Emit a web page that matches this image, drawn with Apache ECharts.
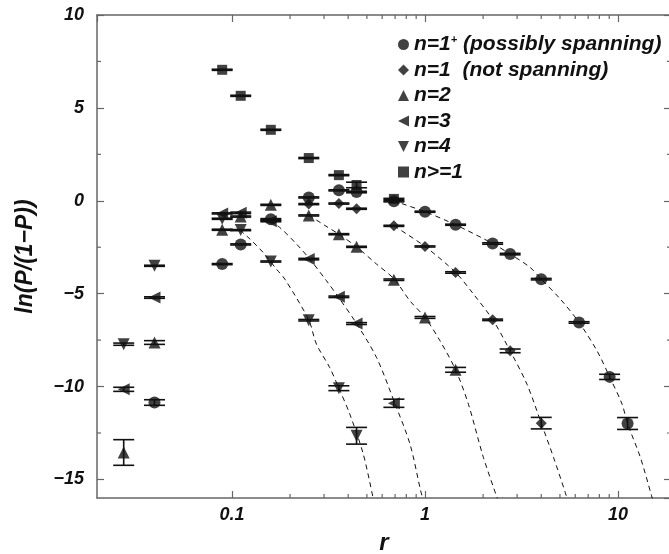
<!DOCTYPE html>
<html>
<head>
<meta charset="utf-8">
<script src="https://cdn.jsdelivr.net/npm/echarts@6/dist/echarts.min.js"></script>
<style>
  html, body { margin: 0; padding: 0; background: #fff; }
  #chart { width: 669px; height: 554px; }
</style>
</head>
<body>
<div id="chart"></div>
<script>
// points: [r, ln(P/(1-P)), error]
const possiblySpanning = [[0.0397,-10.86,0.15],[0.089,-3.41,0.03],[0.111,-2.35,0.03],[0.159,-0.99,0.03],[0.25,0.18,0.03],[0.358,0.56,0.03],[0.442,0.47,0.04],[0.69,-0.03,0.03],[1.0,-0.59,0.03],[1.44,-1.29,0.03],[2.24,-2.30,0.04],[2.76,-2.87,0.04],[4.0,-4.22,0.04],[6.28,-6.55,0.04],[9.04,-9.48,0.14],[11.2,-11.99,0.32]];
const notSpanning = [[0.25,-0.18,0.03],[0.358,-0.15,0.03],[0.442,-0.43,0.03],[0.69,-1.35,0.03],[1.0,-2.46,0.03],[1.44,-3.86,0.04],[2.24,-6.41,0.04],[2.76,-8.08,0.1],[4.0,-11.97,0.31]];
const n2 = [[0.0275,-13.55,0.69],[0.0397,-7.63,0.1],[0.089,-1.56,0.03],[0.111,-0.85,0.03],[0.159,-0.22,0.03],[0.25,-0.79,0.03],[0.358,-1.80,0.03],[0.442,-2.48,0.03],[0.69,-4.25,0.04],[1.0,-6.28,0.05],[1.44,-9.10,0.13]];
const n3 = [[0.0275,-10.15,0.11],[0.0397,-5.21,0.04],[0.089,-0.68,0.03],[0.111,-0.65,0.04],[0.159,-1.10,0.03],[0.25,-3.14,0.04],[0.358,-5.17,0.04],[0.442,-6.61,0.05],[0.69,-10.9,0.22]];
const n4 = [[0.0275,-7.72,0.06],[0.0397,-3.50,0.03],[0.089,-0.97,0.03],[0.111,-1.58,0.03],[0.159,-3.27,0.03],[0.25,-6.43,0.04],[0.358,-10.09,0.13],[0.442,-12.65,0.45]];
const nAtLeast1 = [[0.089,7.05,0.03],[0.111,5.65,0.03],[0.159,3.82,0.03],[0.25,2.30,0.03],[0.358,1.38,0.03],[0.442,0.85,0.15],[0.69,0.10,0.03]];

// dashed fit curves
const fitN4 = [[0.110,-1.58],[0.1225,-2.01],[0.145,-2.78],[0.170,-3.68],[0.188,-4.22],[0.250,-6.42],[0.274,-7.72],[0.321,-8.98],[0.358,-10.09],[0.408,-11.49],[0.479,-13.64],[0.539,-16.03]];
const fitN3 = [[0.157,-1.10],[0.177,-1.44],[0.216,-2.33],[0.253,-3.14],[0.309,-4.31],[0.355,-5.17],[0.442,-6.61],[0.561,-8.44],[0.699,-10.92],[0.836,-13.10],[0.950,-15.62],[0.976,-16.05]];
const fitN2 = [[0.25,-0.77],[0.303,-1.33],[0.358,-1.80],[0.442,-2.48],[0.561,-3.41],[0.69,-4.20],[0.836,-5.39],[1.0,-6.28],[1.196,-7.54],[1.44,-9.10],[1.678,-10.95],[2.007,-13.82],[2.372,-16.03]];
const fitN1 = [[0.69,-1.35],[1.0,-2.46],[1.44,-3.86],[1.781,-5.02],[2.245,-6.41],[2.76,-8.08],[3.372,-9.87],[4.0,-11.97],[4.633,-13.82],[5.33,-15.71],[5.45,-16.05]];
const fitN1p = [[0.685,0.0],[1.0,-0.59],[1.436,-1.29],[2.24,-2.30],[2.76,-2.87],[3.505,-3.59],[4.0,-4.22],[5.02,-5.29],[6.28,-6.55],[7.78,-8.08],[9.04,-9.48],[10.49,-10.95],[11.2,-11.99],[13.05,-13.82],[14.83,-15.79],[15.07,-16.05]];

const xMinorTicks = [0.2,0.3,0.4,0.5,0.6,0.7,0.8,0.9,2,3,4,5,6,7,8,9];
const yMinorTicks = [-12.5,-7.5,-2.5,2.5,7.5];
const xLabels = [0.1, 1, 10];

const legendNames = ['n=1+ (possibly spanning)', 'n=1  (not spanning)', 'n=2', 'n=3', 'n=4', 'n>=1'];

const font = '"Liberation Sans", Arial, Helvetica, sans-serif';
const ink = '#111';
const axisGray = '#666';

const chart = echarts.init(document.getElementById('chart'));

function errBars(params, api) {
  const x = api.value(0), y = api.value(1), e = api.value(2);
  const lo = api.coord([x, y - e]);
  const hi = api.coord([x, y + e]);
  const w = 10.5;
  const st = { stroke: ink, lineWidth: 1.6 };
  return {
    type: 'group',
    children: [
      { type: 'line', shape: { x1: lo[0], y1: lo[1], x2: hi[0], y2: hi[1] }, style: st },
      { type: 'line', shape: { x1: lo[0] - w, y1: lo[1], x2: lo[0] + w, y2: lo[1] }, style: st },
      { type: 'line', shape: { x1: hi[0] - w, y1: hi[1], x2: hi[0] + w, y2: hi[1] }, style: st }
    ]
  };
}

function xMinor(params, api) {
  const cs = params.coordSys;
  const px = api.coord([api.value(0), 0])[0];
  const st = { stroke: axisGray, lineWidth: 1.2 };
  return {
    type: 'group',
    children: [
      { type: 'line', shape: { x1: px, y1: cs.y + cs.height, x2: px, y2: cs.y + cs.height - 4 }, style: st },
      { type: 'line', shape: { x1: px, y1: cs.y, x2: px, y2: cs.y + 4 }, style: st }
    ]
  };
}

function yMinor(params, api) {
  const cs = params.coordSys;
  const py = api.coord([1, api.value(1)])[1];
  const st = { stroke: axisGray, lineWidth: 1.2 };
  return {
    type: 'group',
    children: [
      { type: 'line', shape: { x1: cs.x, y1: py, x2: cs.x + 4, y2: py }, style: st },
      { type: 'line', shape: { x1: cs.x + cs.width, y1: py, x2: cs.x + cs.width - 4, y2: py }, style: st }
    ]
  };
}

function markerSeries(name, data, symbol, size) {
  return {
    name: name,
    type: 'scatter',
    symbol: symbol,
    symbolSize: size,
    data: data.map(d => [d[0], d[1]]),
    itemStyle: { color: ink },
    z: 5
  };
}

function fitSeries(data) {
  return {
    type: 'line',
    data: data,
    showSymbol: false,
    smooth: 0.3,
    silent: true,
    lineStyle: { color: ink, width: 1, type: [5, 4] },
    z: 2
  };
}

const xAxisBase = {
  type: 'log',
  min: 0.02,
  max: 18.8,
  splitLine: { show: false },
  axisLine: { onZero: false, lineStyle: { color: axisGray, width: 1.5 } },
  axisTick: { inside: true, length: 7, lineStyle: { color: axisGray, width: 1.2 } }
};
const yAxisBase = {
  type: 'value',
  min: -16,
  max: 10,
  splitLine: { show: false },
  axisLine: { show: true, onZero: false, lineStyle: { color: axisGray, width: 1.5 } },
  axisTick: { show: true, inside: true, length: 7, lineStyle: { color: axisGray, width: 1.2 } }
};

const option = {
  animation: false,
  backgroundColor: '#fff',
  grid: { left: 97, top: 15, width: 574, height: 483, containLabel: false, outerBoundsMode: 'none' },
  legend: {
    orient: 'vertical',
    left: 393,
    top: 29,
    itemWidth: 11,
    itemHeight: 11,
    itemGap: 4.5,
    selectedMode: false,
    data: legendNames,
    formatter: function (name) {
      if (name === legendNames[0]) return 'n=1{s|+} (possibly spanning)';
      return name;
    },
    textStyle: {
      fontFamily: font, fontSize: 21, fontStyle: 'italic', fontWeight: 'bold', color: ink, lineHeight: 20.4,
      rich: {
        s: { fontFamily: font, fontSize: 11, fontStyle: 'italic', fontWeight: 'bold', color: ink, verticalAlign: 'top', lineHeight: 11 }
      }
    }
  },
  xAxis: [
    Object.assign({}, xAxisBase, {
      position: 'bottom',
      name: 'r',
      nameLocation: 'middle',
      nameGap: 33,
      nameTextStyle: { fontFamily: font, fontSize: 24, fontStyle: 'italic', fontWeight: 'bold', color: ink },
      axisLabel: {
        margin: 8,
        showMinLabel: false,
        showMaxLabel: false,
        fontFamily: font, fontSize: 18, fontStyle: 'italic', fontWeight: 'bold', color: ink,
        formatter: function (v) {
          for (const l of xLabels) { if (Math.abs(v - l) / l < 1e-6) return String(l); }
          return '';
        }
      }
    }),
    Object.assign({}, xAxisBase, { position: 'top', axisLabel: { show: false } })
  ],
  yAxis: [
    Object.assign({}, yAxisBase, {
      position: 'left',
      name: 'ln(P/(1\u2212P))',
      nameLocation: 'middle',
      nameGap: 60,
      nameTextStyle: { fontFamily: font, fontSize: 23, fontStyle: 'italic', fontWeight: 'bold', color: ink },
      axisLabel: {
        margin: 13,
        showMinLabel: false,
        fontFamily: font, fontSize: 18, fontStyle: 'italic', fontWeight: 'bold', color: ink,
        formatter: function (v) { return v < 0 ? '\u2212' + (-v) : String(v); }
      }
    }),
    Object.assign({}, yAxisBase, { position: 'right', axisLabel: { show: false } })
  ],
  series: [
    fitSeries(fitN4), fitSeries(fitN3), fitSeries(fitN2), fitSeries(fitN1), fitSeries(fitN1p),
    {
      type: 'custom',
      renderItem: errBars,
      silent: true,
      data: [].concat(possiblySpanning, notSpanning, n2, n3, n4, nAtLeast1),
      encode: { x: 0, y: 1 },
      z: 4
    },
    { type: 'custom', renderItem: xMinor, silent: true, data: xMinorTicks.map(v => [v, 0]), encode: { x: 0, y: 1 }, z: 3 },
    { type: 'custom', renderItem: yMinor, silent: true, data: yMinorTicks.map(v => [1, v]), encode: { x: 0, y: 1 }, z: 3 },
    markerSeries(legendNames[0], possiblySpanning, 'circle', 12),
    markerSeries(legendNames[1], notSpanning, 'diamond', 11),
    markerSeries(legendNames[2], n2, 'triangle', 12),
    markerSeries(legendNames[3], n3, 'path://M0,5L10,0L10,10Z', 12),
    markerSeries(legendNames[4], n4, 'path://M0,0L10,0L5,10Z', 12),
    markerSeries(legendNames[5], nAtLeast1, 'rect', 10)
  ]
};

chart.setOption(option);
</script>
</body>
</html>
